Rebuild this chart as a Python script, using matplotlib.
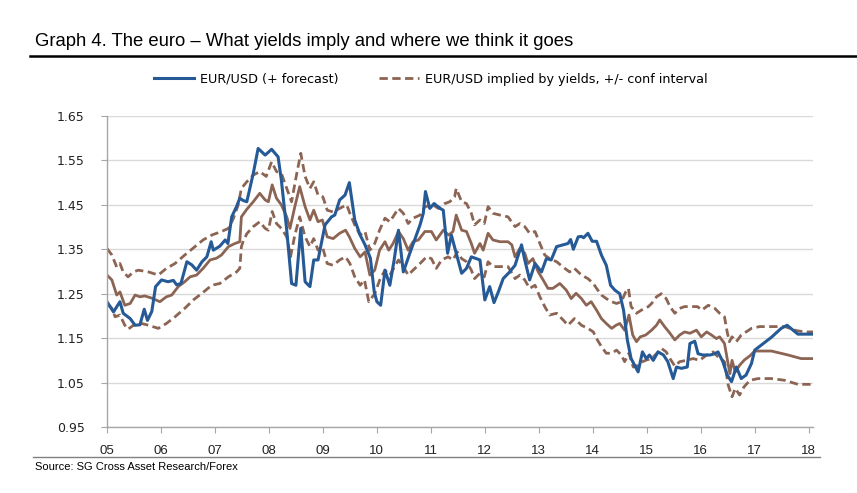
import matplotlib
matplotlib.use("Agg")
import matplotlib.pyplot as plt
from matplotlib.lines import Line2D

# EUR/USD spot (+ forecast)
eur_t = [2005.00, 2005.12, 2005.24, 2005.30, 2005.43, 2005.52, 2005.61, 2005.69, 2005.75, 2005.83,
         2005.90, 2006.01, 2006.13, 2006.23, 2006.29, 2006.37, 2006.48, 2006.57, 2006.66, 2006.76,
         2006.85, 2006.93, 2006.97, 2007.09, 2007.19, 2007.24, 2007.31, 2007.40, 2007.46, 2007.52,
         2007.59, 2007.71, 2007.80, 2007.93, 2008.05, 2008.17, 2008.23, 2008.33, 2008.42, 2008.50,
         2008.59, 2008.67, 2008.76, 2008.83, 2008.91, 2009.04, 2009.16, 2009.22, 2009.31, 2009.41,
         2009.49, 2009.59, 2009.69, 2009.78, 2009.88, 2009.95, 2010.00, 2010.07, 2010.15, 2010.24,
         2010.32, 2010.40, 2010.49, 2010.61, 2010.70, 2010.80, 2010.86, 2010.90, 2010.98, 2011.06,
         2011.17, 2011.23, 2011.31, 2011.38, 2011.47, 2011.57, 2011.66, 2011.75, 2011.91, 2012.00,
         2012.09, 2012.17, 2012.25, 2012.34, 2012.46, 2012.56, 2012.68, 2012.74, 2012.83, 2012.93,
         2013.05, 2013.14, 2013.23, 2013.33, 2013.45, 2013.54, 2013.59, 2013.64, 2013.73, 2013.79,
         2013.83, 2013.91, 2013.99, 2014.07, 2014.16, 2014.25, 2014.33, 2014.41, 2014.50, 2014.57,
         2014.64, 2014.71, 2014.84, 2014.92, 2014.99, 2015.05, 2015.12, 2015.21, 2015.31, 2015.39,
         2015.49, 2015.55, 2015.64, 2015.75, 2015.80, 2015.89, 2015.95, 2016.04, 2016.17, 2016.26,
         2016.32, 2016.41, 2016.49, 2016.57, 2016.66, 2016.75, 2016.84, 2016.94, 2017.00, 2017.31,
         2017.49, 2017.60, 2017.80, 2018.08]
eur_v = [1.232, 1.209, 1.232, 1.206, 1.194, 1.179, 1.180, 1.215, 1.190, 1.210,
         1.266, 1.281, 1.277, 1.280, 1.270, 1.273, 1.322, 1.315, 1.303, 1.322,
         1.333, 1.367, 1.348, 1.357, 1.371, 1.363, 1.423, 1.446, 1.465, 1.460,
         1.457, 1.521, 1.577, 1.562, 1.575, 1.558, 1.506, 1.393, 1.273, 1.269,
         1.397, 1.277, 1.266, 1.326, 1.326, 1.405, 1.423, 1.427, 1.461, 1.472,
         1.500, 1.416, 1.382, 1.360, 1.330, 1.255, 1.232, 1.224, 1.303, 1.269,
         1.326, 1.393, 1.299, 1.341, 1.371, 1.405, 1.431, 1.480, 1.442, 1.453,
         1.442, 1.438, 1.341, 1.382, 1.341, 1.296, 1.307, 1.333, 1.326, 1.236,
         1.266, 1.230, 1.254, 1.284, 1.299, 1.314, 1.360, 1.326, 1.281, 1.318,
         1.299, 1.329, 1.326, 1.356, 1.360, 1.363, 1.372, 1.350, 1.378, 1.379,
         1.376, 1.386, 1.368, 1.368, 1.337, 1.314, 1.269, 1.258, 1.250, 1.213,
         1.146, 1.104, 1.074, 1.119, 1.104, 1.112, 1.100, 1.119, 1.112, 1.097,
         1.059, 1.085, 1.082, 1.085, 1.138, 1.143, 1.115, 1.112, 1.112, 1.115,
         1.119, 1.097, 1.067, 1.052, 1.085, 1.059, 1.067, 1.093, 1.123, 1.152,
         1.172, 1.179, 1.159, 1.159]

# EUR/USD implied by yields (central)
mid_t = [2005.00, 2005.09, 2005.18, 2005.24, 2005.33, 2005.43, 2005.52, 2005.61, 2005.70, 2005.83,
         2005.98, 2006.10, 2006.20, 2006.32, 2006.44, 2006.54, 2006.66, 2006.78, 2006.91, 2007.03,
         2007.12, 2007.25, 2007.37, 2007.46, 2007.49, 2007.59, 2007.71, 2007.83, 2007.93, 2007.99,
         2008.06, 2008.14, 2008.23, 2008.33, 2008.39, 2008.48, 2008.57, 2008.67, 2008.76, 2008.83,
         2008.91, 2008.99, 2009.08, 2009.19, 2009.31, 2009.42, 2009.49, 2009.59, 2009.69, 2009.78,
         2009.87, 2009.96, 2010.05, 2010.15, 2010.22, 2010.30, 2010.40, 2010.49, 2010.58, 2010.67,
         2010.77, 2010.89, 2011.01, 2011.10, 2011.23, 2011.33, 2011.41, 2011.47, 2011.57, 2011.66,
         2011.75, 2011.81, 2011.91, 2011.97, 2012.06, 2012.15, 2012.28, 2012.43, 2012.50, 2012.56,
         2012.65, 2012.74, 2012.80, 2012.89, 2012.99, 2013.08, 2013.17, 2013.26, 2013.39, 2013.51,
         2013.60, 2013.69, 2013.79, 2013.88, 2013.97, 2014.07, 2014.16, 2014.25, 2014.35, 2014.43,
         2014.50, 2014.59, 2014.67, 2014.74, 2014.81, 2014.88, 2014.98, 2015.09, 2015.18, 2015.24,
         2015.33, 2015.43, 2015.52, 2015.61, 2015.70, 2015.80, 2015.92, 2016.01, 2016.11, 2016.20,
         2016.29, 2016.35, 2016.44, 2016.54, 2016.58, 2016.64, 2016.72, 2016.81, 2016.91, 2017.00,
         2017.31, 2017.62, 2017.86, 2018.08]
mid_v = [1.292, 1.281, 1.247, 1.254, 1.224, 1.228, 1.247, 1.243, 1.245, 1.240,
         1.232, 1.243, 1.247, 1.266, 1.277, 1.288, 1.292, 1.307, 1.326, 1.330,
         1.337, 1.356, 1.363, 1.367, 1.423, 1.440, 1.457, 1.476, 1.461, 1.457,
         1.495, 1.465, 1.450, 1.423, 1.397, 1.446, 1.491, 1.446, 1.416, 1.438,
         1.412, 1.416, 1.378, 1.374, 1.386, 1.393, 1.378, 1.352, 1.333, 1.344,
         1.292, 1.303, 1.348, 1.367, 1.348, 1.363, 1.390, 1.374, 1.348, 1.367,
         1.371, 1.390, 1.390, 1.371, 1.393, 1.382, 1.390, 1.427, 1.393, 1.390,
         1.363, 1.341, 1.363, 1.348, 1.386, 1.371, 1.367, 1.367, 1.360, 1.333,
         1.352, 1.341, 1.318, 1.329, 1.299, 1.281, 1.262, 1.262, 1.273, 1.258,
         1.239, 1.251, 1.239, 1.224, 1.232, 1.213, 1.194, 1.183, 1.172, 1.179,
         1.183, 1.168, 1.202, 1.157, 1.142, 1.153, 1.157, 1.168, 1.179, 1.191,
         1.176, 1.161, 1.146, 1.157, 1.164, 1.161, 1.168, 1.153, 1.164, 1.157,
         1.149, 1.153, 1.138, 1.070, 1.100, 1.074, 1.089, 1.101, 1.110, 1.121,
         1.121, 1.112, 1.104, 1.104]

# upper confidence band
up_t = [2005.00, 2005.09, 2005.18, 2005.24, 2005.30, 2005.39, 2005.49, 2005.58, 2005.77, 2005.95,
        2006.10, 2006.26, 2006.44, 2006.63, 2006.78, 2006.94, 2007.12, 2007.25, 2007.34, 2007.43,
        2007.49, 2007.59, 2007.71, 2007.83, 2007.95, 2008.05, 2008.14, 2008.23, 2008.33, 2008.42,
        2008.51, 2008.59, 2008.67, 2008.76, 2008.83, 2008.91, 2009.00, 2009.08, 2009.19, 2009.31,
        2009.44, 2009.50, 2009.59, 2009.69, 2009.78, 2009.87, 2009.96, 2010.05, 2010.15, 2010.24,
        2010.40, 2010.49, 2010.58, 2010.67, 2010.80, 2010.89, 2011.05, 2011.14, 2011.26, 2011.35,
        2011.44, 2011.47, 2011.57, 2011.66, 2011.75, 2011.81, 2011.91, 2011.99, 2012.06, 2012.15,
        2012.28, 2012.43, 2012.56, 2012.65, 2012.74, 2012.83, 2012.93, 2013.02, 2013.11, 2013.20,
        2013.33, 2013.45, 2013.57, 2013.66, 2013.79, 2013.91, 2014.01, 2014.07, 2014.16, 2014.25,
        2014.35, 2014.44, 2014.53, 2014.61, 2014.66, 2014.71, 2014.81, 2014.90, 2015.03, 2015.09,
        2015.18, 2015.27, 2015.36, 2015.43, 2015.52, 2015.61, 2015.70, 2015.83, 2015.94, 2016.02,
        2016.14, 2016.26, 2016.35, 2016.44, 2016.49, 2016.53, 2016.58, 2016.66, 2016.75, 2016.84,
        2016.94, 2017.09, 2017.31, 2017.56, 2017.77, 2017.93, 2018.08]
up_v = [1.352, 1.337, 1.310, 1.318, 1.299, 1.288, 1.299, 1.303, 1.299, 1.292,
        1.307, 1.318, 1.337, 1.356, 1.371, 1.382, 1.390, 1.397, 1.419, 1.450,
        1.487, 1.502, 1.517, 1.525, 1.514, 1.547, 1.525, 1.521, 1.487, 1.457,
        1.517, 1.566, 1.514, 1.487, 1.502, 1.472, 1.468, 1.438, 1.434, 1.442,
        1.450, 1.431, 1.405, 1.382, 1.390, 1.348, 1.363, 1.393, 1.420, 1.412,
        1.442, 1.431, 1.408, 1.420, 1.427, 1.446, 1.449, 1.442, 1.453, 1.457,
        1.468, 1.487, 1.457, 1.453, 1.431, 1.405, 1.416, 1.408, 1.446, 1.431,
        1.427, 1.423, 1.401, 1.408, 1.401, 1.386, 1.390, 1.363, 1.337, 1.329,
        1.322, 1.310, 1.299, 1.307, 1.292, 1.284, 1.273, 1.262, 1.247, 1.239,
        1.232, 1.228, 1.232, 1.254, 1.262, 1.221, 1.206, 1.213, 1.221, 1.228,
        1.243, 1.250, 1.239, 1.221, 1.206, 1.217, 1.221, 1.221, 1.221, 1.213,
        1.224, 1.217, 1.206, 1.198, 1.164, 1.142, 1.153, 1.142, 1.157, 1.164,
        1.172, 1.176, 1.176, 1.176, 1.167, 1.164, 1.164]

# lower confidence band
lo_t = [2005.00, 2005.09, 2005.15, 2005.24, 2005.33, 2005.39, 2005.49, 2005.64, 2005.77, 2005.95,
        2006.10, 2006.26, 2006.44, 2006.60, 2006.76, 2006.94, 2007.09, 2007.25, 2007.40, 2007.46,
        2007.49, 2007.52, 2007.59, 2007.71, 2007.83, 2007.93, 2007.99, 2008.06, 2008.14, 2008.23,
        2008.33, 2008.40, 2008.48, 2008.57, 2008.67, 2008.76, 2008.83, 2008.91, 2008.99, 2009.08,
        2009.19, 2009.31, 2009.42, 2009.50, 2009.59, 2009.69, 2009.77, 2009.85, 2009.96, 2010.05,
        2010.15, 2010.24, 2010.40, 2010.49, 2010.58, 2010.67, 2010.80, 2010.92, 2011.01, 2011.10,
        2011.20, 2011.32, 2011.41, 2011.49, 2011.57, 2011.66, 2011.75, 2011.81, 2011.91, 2011.99,
        2012.06, 2012.15, 2012.28, 2012.43, 2012.56, 2012.65, 2012.74, 2012.83, 2012.93, 2013.02,
        2013.11, 2013.20, 2013.33, 2013.45, 2013.54, 2013.66, 2013.79, 2013.91, 2014.01, 2014.07,
        2014.16, 2014.25, 2014.35, 2014.44, 2014.53, 2014.59, 2014.67, 2014.75, 2014.84, 2014.92,
        2015.00, 2015.09, 2015.18, 2015.27, 2015.36, 2015.43, 2015.52, 2015.61, 2015.73, 2015.86,
        2015.98, 2016.11, 2016.23, 2016.32, 2016.44, 2016.51, 2016.58, 2016.64, 2016.72, 2016.80,
        2016.91, 2017.06, 2017.31, 2017.56, 2017.80, 2018.08]
lo_v = [1.228, 1.217, 1.198, 1.202, 1.179, 1.170, 1.179, 1.183, 1.179, 1.172,
        1.183, 1.198, 1.217, 1.236, 1.251, 1.269, 1.273, 1.288, 1.299, 1.307,
        1.356, 1.367, 1.385, 1.401, 1.412, 1.397, 1.393, 1.435, 1.408, 1.397,
        1.378, 1.333, 1.382, 1.423, 1.378, 1.356, 1.374, 1.348, 1.356, 1.318,
        1.314, 1.326, 1.333, 1.318, 1.288, 1.269, 1.281, 1.232, 1.250, 1.280,
        1.303, 1.292, 1.326, 1.311, 1.292, 1.303, 1.318, 1.333, 1.329, 1.307,
        1.326, 1.333, 1.326, 1.344, 1.329, 1.322, 1.303, 1.284, 1.296, 1.288,
        1.322, 1.311, 1.311, 1.311, 1.284, 1.292, 1.281, 1.262, 1.269, 1.243,
        1.221, 1.202, 1.206, 1.191, 1.179, 1.194, 1.179, 1.172, 1.164, 1.149,
        1.131, 1.116, 1.116, 1.123, 1.112, 1.097, 1.116, 1.085, 1.089, 1.097,
        1.101, 1.104, 1.115, 1.127, 1.119, 1.104, 1.087, 1.097, 1.100, 1.104,
        1.100, 1.112, 1.119, 1.108, 1.097, 1.044, 1.018, 1.037, 1.022, 1.040,
        1.055, 1.059, 1.059, 1.055, 1.046, 1.046]

years = list(range(2005, 2019))
year_labels = [f"{y % 100:02d}" for y in years]
y_ticks = [0.95, 1.05, 1.15, 1.25, 1.35, 1.45, 1.55, 1.65]

BLUE = '#255A96'
BROWN = '#8C6453'
GRID = '#D9D9D9'
AXIS = '#A6A6A6'

fig = plt.figure(figsize=(8.57, 4.93), dpi=100)
ax = fig.add_axes([107 / 857, 1 - 427 / 493, (813 - 107) / 857, (427 - 116) / 493])

dash = (3.0, 1.6)
ax.plot(up_t, up_v, color=BROWN, lw=2.0, dashes=dash)
ax.plot(lo_t, lo_v, color=BROWN, lw=2.0, dashes=dash)
ax.plot(mid_t, mid_v, color=BROWN, lw=2.0)
ax.plot(eur_t, eur_v, color=BLUE, lw=2.2)

ax.set_xlim(2005, 2018.08)
ax.set_ylim(0.95, 1.65)
ax.set_yticks(y_ticks)
ax.set_yticklabels([f"{v:.2f}" for v in y_ticks])
ax.set_xticks(years)
ax.set_xticklabels(year_labels)
ax.grid(axis='y', color=GRID, lw=1.0)
ax.set_axisbelow(True)
for s in ['top', 'right']:
    ax.spines[s].set_visible(False)
for s in ['left', 'bottom']:
    ax.spines[s].set_color(AXIS)
    ax.spines[s].set_linewidth(1.0)
ax.tick_params(axis='y', length=4, color=AXIS, labelsize=9, pad=12, labelcolor='#222222')
ax.tick_params(axis='x', length=4, color=AXIS, labelsize=9, pad=9, labelcolor='#222222')
for lab in ax.get_xticklabels():
    lab.set_fontfamily('Liberation Sans')
    lab.set_fontsize(9.5)

# title and rules
fig.text(35 / 857, 1 - 41 / 493, "Graph 4. The euro \u2013 What yields imply and where we think it goes",
         fontsize=13.3, family='Liberation Sans', va='center', ha='left', color='black')
fig.add_artist(Line2D([30 / 857, 1.0], [1 - 56 / 493, 1 - 56 / 493], color='black', lw=1.8))
fig.add_artist(Line2D([33 / 857, 820 / 857], [1 - 457 / 493, 1 - 457 / 493], color='#808080', lw=1.0))
fig.text(35 / 857, 1 - 467 / 493, "Source: SG Cross Asset Research/Forex",
         fontsize=8, family='Liberation Sans', va='center', ha='left', color='black')

handles = [Line2D([], [], color=BLUE, lw=2.2),
           Line2D([], [], color=BROWN, lw=2.0, dashes=dash)]
fig.legend(handles, ["EUR/USD (+ forecast)", "EUR/USD implied by yields, +/- conf interval"],
           loc='center', bbox_to_anchor=(431 / 857, 1 - 79 / 493), ncol=2, frameon=False,
           fontsize=9.2, handlelength=3.1, handletextpad=0.5, columnspacing=3.2)

fig.savefig("out.png", dpi=100)
